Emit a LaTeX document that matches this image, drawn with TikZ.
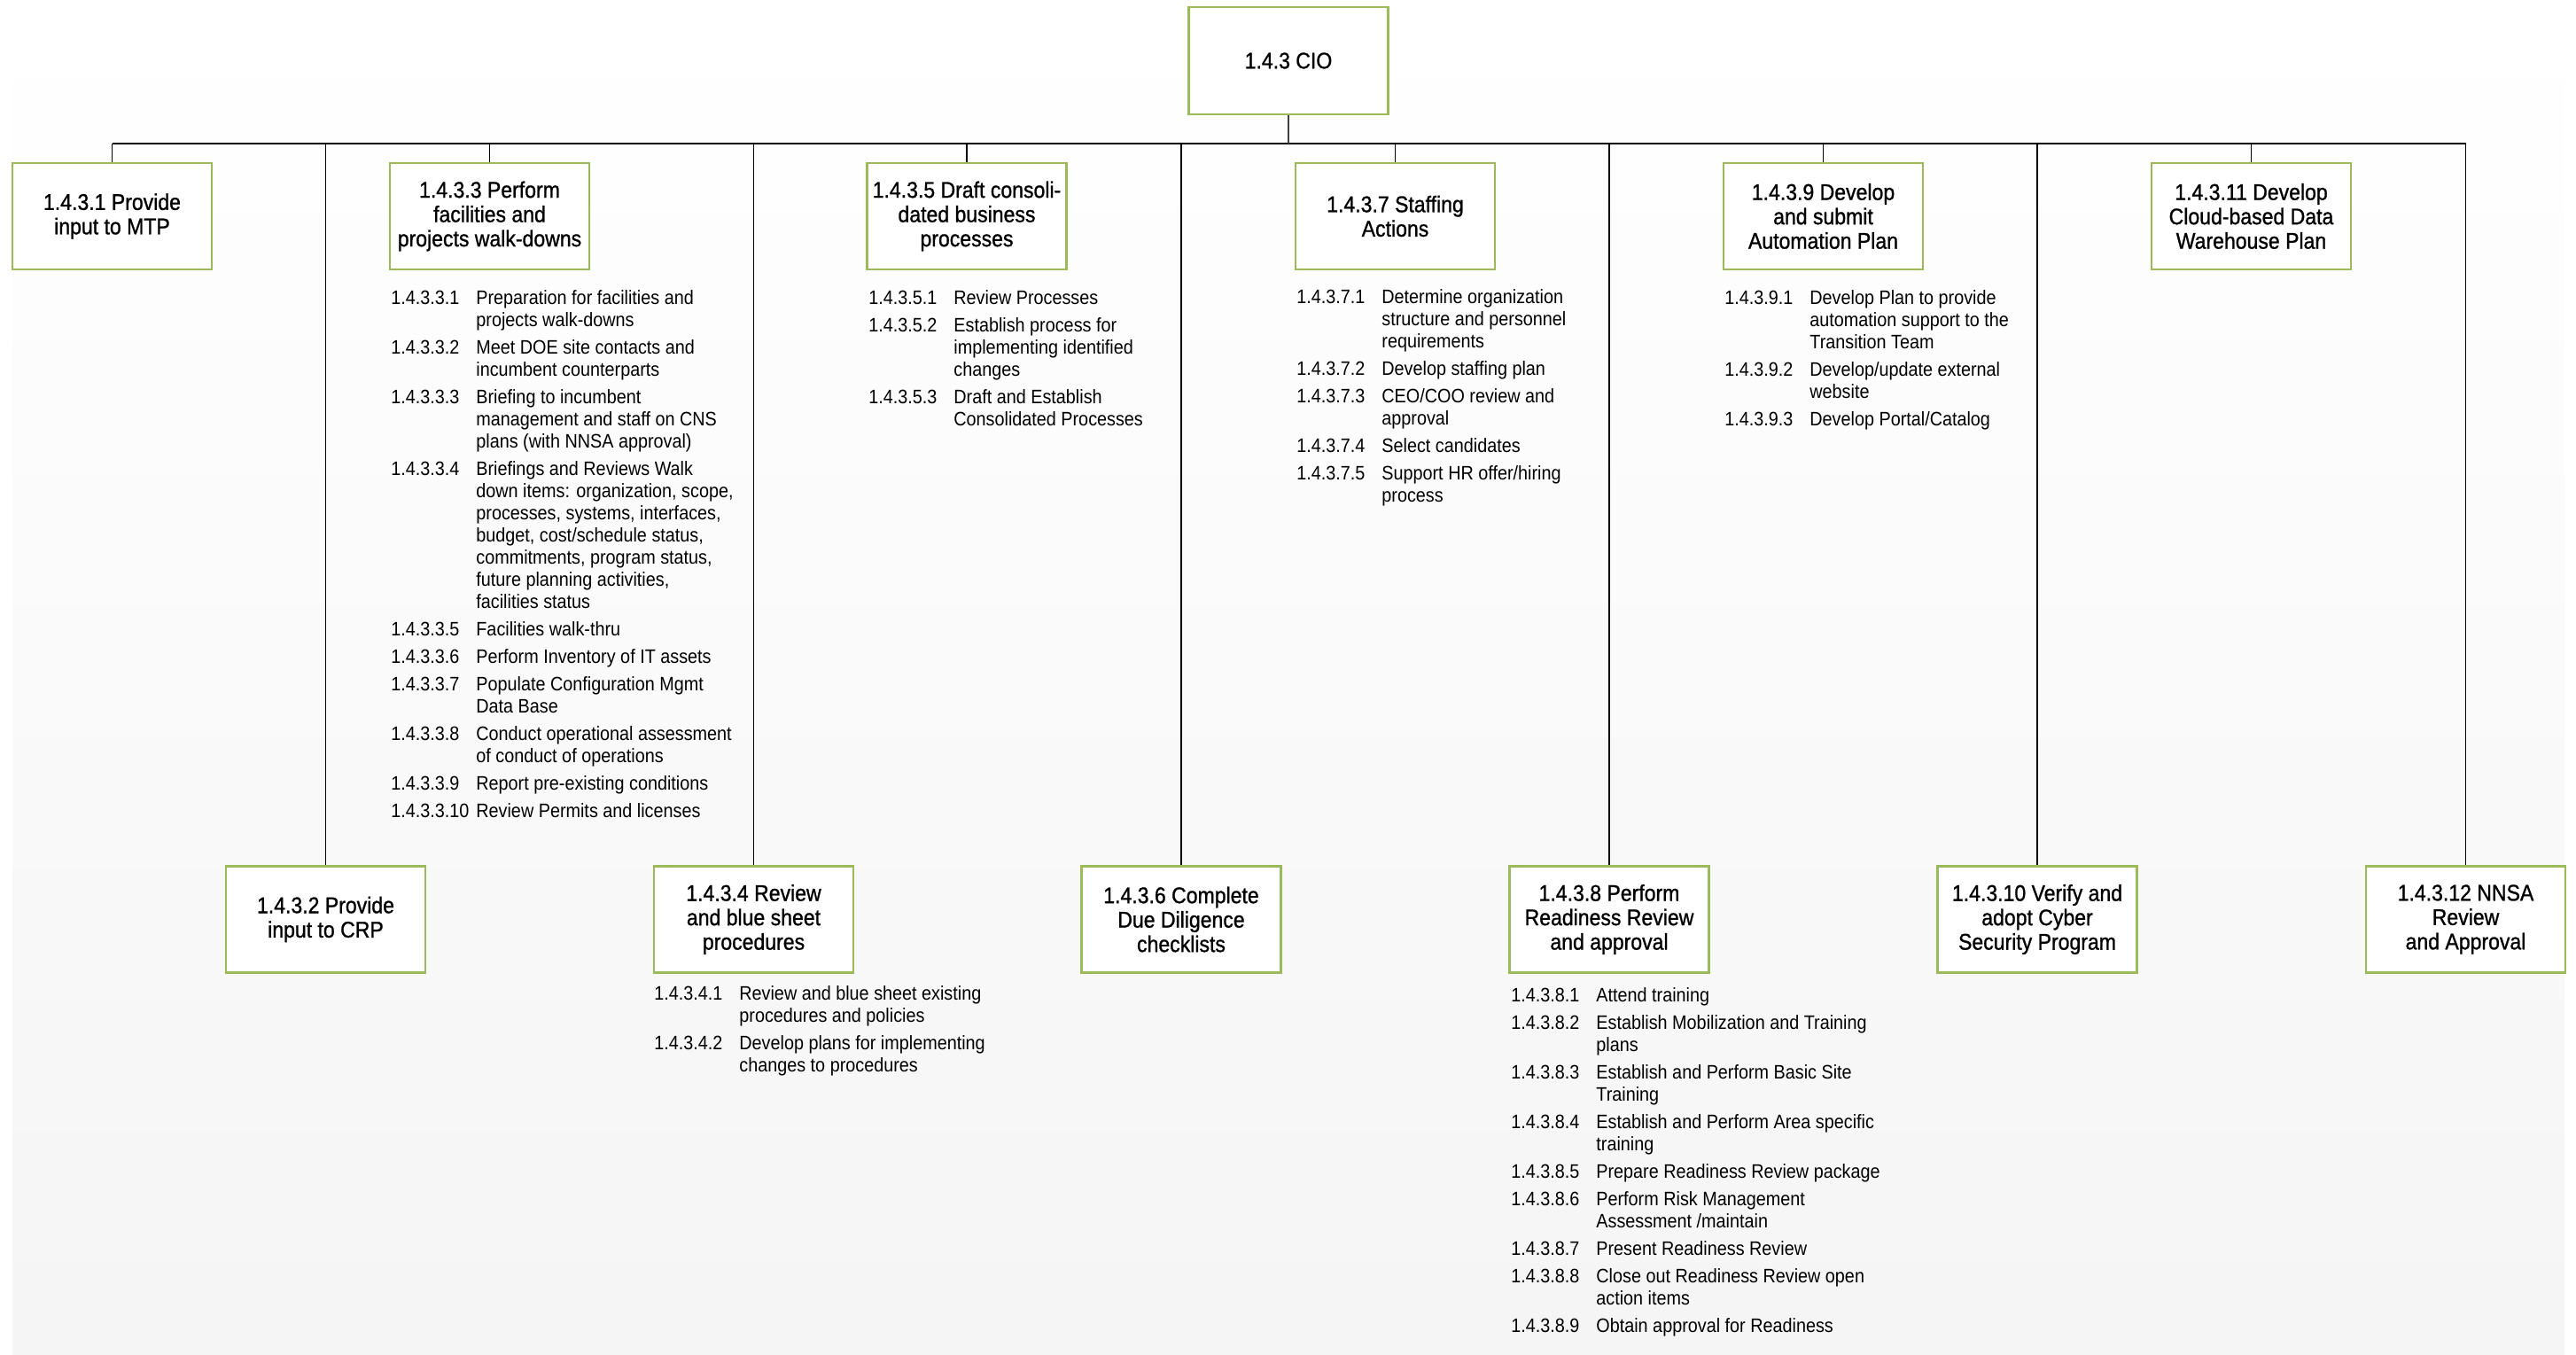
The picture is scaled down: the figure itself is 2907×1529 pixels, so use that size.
\documentclass[tikz,border=0pt]{standalone}
\usepackage{fontspec}
\setmainfont{Liberation Sans}
\newfontfamily\itemfont[FakeStretch=0.9]{Liberation Sans}
\newfontfamily\titlefont[FakeStretch=0.9,FakeBold=1]{Liberation Sans}
\usetikzlibrary{backgrounds}
\definecolor{boxgreen}{HTML}{9BBB59}
\newcommand{\wbslist}[1]{\begin{tabular}[t]{@{}p{48pt}@{}l@{}}#1\end{tabular}}
\tikzset{
  wbs/.style={draw=boxgreen, line width=1.2pt, fill=white, rectangle,
    minimum width=112.5pt, minimum height=60pt, inner sep=0pt, align=center,
    font={\titlefont\fontsize{12.8}{13.75}\selectfont}},
  conn/.style={draw=black, line width=0.9pt},
  rootconn/.style={draw=black!75, line width=1.3pt},
  itemlist/.style={anchor=base west, inner sep=0pt,
    font={\itemfont\fontsize{11}{12.5}\selectfont}},
}
\begin{document}
\begin{tikzpicture}[x=0.5pt,y=-0.5pt]
\useasboundingbox (0,0) rectangle (2907,1529);
% boxes
\node[wbs, minimum height=60.5pt] (cio) at (1454,68.5) {1.4.3 CIO};
\node[wbs] (t1) at (126.5,244) {1.4.3.1 Provide\\input to MTP};
\node[wbs] (t3) at (552.5,244) {1.4.3.3 Perform\\facilities and\\projects walk-downs};
\node[wbs] (t5) at (1091,244) {1.4.3.5 Draft consoli-\\dated business\\processes};
\node[wbs] (t7) at (1574.5,244) {1.4.3.7 Staffing\\Actions};
\node[wbs] (t9) at (2057.5,244) {1.4.3.9 Develop\\and submit\\Automation Plan};
\node[wbs] (t11) at (2540.5,244) {1.4.3.11 Develop\\Cloud-based Data\\Warehouse Plan};
\node[wbs] (b2) at (367.5,1037.5) {1.4.3.2 Provide\\input to CRP};
\node[wbs] (b4) at (850.5,1037.5) {1.4.3.4 Review\\and blue sheet\\procedures};
\node[wbs] (b6) at (1333,1037.5) {1.4.3.6 Complete\\Due Diligence\\checklists};
\node[wbs] (b8) at (1816,1037.5) {1.4.3.8 Perform\\Readiness Review\\and approval};
\node[wbs] (b10) at (2299,1037.5) {1.4.3.10 Verify and\\adopt Cyber\\Security Program};
\node[wbs] (b12) at (2782.5,1037.5) {1.4.3.12 NNSA\\Review\\and Approval};
\coordinate (bus) at (1454,162);
% connectors and background
\begin{scope}[on background layer]
\shade[top color=white, bottom color=black!4] (14,15) rectangle (2894,1529);
\draw[conn] (t1.north |- bus) -- (b12.north |- bus);
\foreach \n in {t1,t3,t5,t7,t9,t11,b2,b4,b6,b8,b10,b12}
  \draw[conn] (\n.north) -- (\n.north |- bus);
\draw[rootconn] (cio.south) -- (bus);
\end{scope}
% item lists
\node[itemlist] (l3) at (441,343.5) {\wbslist{%
1.4.3.3.1 & Preparation for facilities and\\
 & projects walk-downs\\[3pt]
1.4.3.3.2 & Meet DOE site contacts and\\
 & incumbent counterparts\\[3pt]
1.4.3.3.3 & Briefing to incumbent\\
 & management and staff on CNS\\
 & plans (with NNSA approval)\\[3pt]
1.4.3.3.4 & Briefings and Reviews Walk\\
 & down items: organization, scope,\\
 & processes, systems, interfaces,\\
 & budget, cost/schedule status,\\
 & commitments, program status,\\
 & future planning activities,\\
 & facilities status\\[3pt]
1.4.3.3.5 & Facilities walk-thru\\[3pt]
1.4.3.3.6 & Perform Inventory of IT assets\\[3pt]
1.4.3.3.7 & Populate Configuration Mgmt\\
 & Data Base\\[3pt]
1.4.3.3.8 & Conduct operational assessment\\
 & of conduct of operations\\[3pt]
1.4.3.3.9 & Report pre-existing conditions\\[3pt]
1.4.3.3.10 & Review Permits and licenses}};
\node[itemlist] (l5) at (980,344) {\wbslist{%
1.4.3.5.1 & Review Processes\\[3pt]
1.4.3.5.2 & Establish process for\\
 & implementing identified\\
 & changes\\[3pt]
1.4.3.5.3 & Draft and Establish\\
 & Consolidated Processes}};
\node[itemlist] (l7) at (1463,343) {\wbslist{%
1.4.3.7.1 & Determine organization\\
 & structure and personnel\\
 & requirements\\[3pt]
1.4.3.7.2 & Develop staffing plan\\[3pt]
1.4.3.7.3 & CEO/COO review and\\
 & approval\\[3pt]
1.4.3.7.4 & Select candidates\\[3pt]
1.4.3.7.5 & Support HR offer/hiring\\
 & process}};
\node[itemlist] (l9) at (1946,344) {\wbslist{%
1.4.3.9.1 & Develop Plan to provide\\
 & automation support to the\\
 & Transition Team\\[3pt]
1.4.3.9.2 & Develop/update external\\
 & website\\[3pt]
1.4.3.9.3 & Develop Portal/Catalog}};
\node[itemlist] (l4) at (738,1128) {\wbslist{%
1.4.3.4.1 & Review and blue sheet existing\\
 & procedures and policies\\[3pt]
1.4.3.4.2 & Develop plans for implementing\\
 & changes to procedures}};
\node[itemlist] (l8) at (1705,1130) {\wbslist{%
1.4.3.8.1 & Attend training\\[3pt]
1.4.3.8.2 & Establish Mobilization and Training\\
 & plans\\[3pt]
1.4.3.8.3 & Establish and Perform Basic Site\\
 & Training\\[3pt]
1.4.3.8.4 & Establish and Perform Area specific\\
 & training\\[3pt]
1.4.3.8.5 & Prepare Readiness Review package\\[3pt]
1.4.3.8.6 & Perform Risk Management\\
 & Assessment /maintain\\[3pt]
1.4.3.8.7 & Present Readiness Review\\[3pt]
1.4.3.8.8 & Close out Readiness Review open\\
 & action items\\[3pt]
1.4.3.8.9 & Obtain approval for Readiness}};
\end{tikzpicture}
\end{document}
